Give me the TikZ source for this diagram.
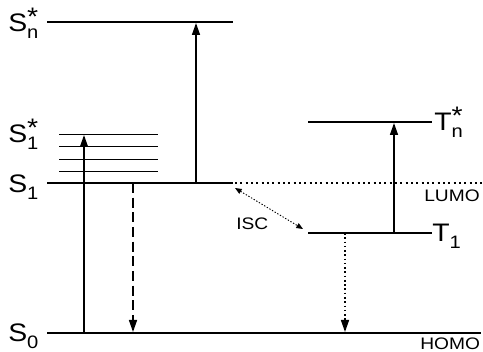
\documentclass[tikz,border=0pt]{standalone}
\usepackage{fontspec}
\setmainfont{Liberation Sans}
\usetikzlibrary{arrows.meta}
\newcommand\lvllabel[3]{#1\makebox[0pt][l]{\raisebox{5.2pt}{#2}}\raisebox{-4.8pt}{\fontsize{13.5}{14}\selectfont #3}}
\begin{document}
\begin{tikzpicture}[x=0.75pt,y=-0.75pt,
  lvl/.style={line width=1.6pt},
  sub/.style={line width=0.65pt},
  trans/.style={line width=1.1pt,-{Triangle[length=9pt,width=6pt]}},
  big/.style={inner sep=0pt,anchor=base west,xscale=1.12,transform shape,font=\fontsize{19}{20}\selectfont},
  small/.style={inner sep=0pt,anchor=base west,xscale=1.15,transform shape,font=\fontsize{12.5}{13}\selectfont}]
\useasboundingbox (0,0) rectangle (483,352);
% levels
\draw[lvl] (47,22) -- (233,22);
\draw[sub] (59,134) -- (158,134);
\draw[sub] (59,146) -- (158,146);
\draw[sub] (59,159) -- (158,159);
\draw[sub] (59,171) -- (158,171);
\draw[lvl] (47,183) -- (233,183);
\draw[line width=1.8pt,dash pattern=on 1.6pt off 2.4pt] (235,183) -- (483,183);
\draw[lvl] (47,333) -- (481,333);
\draw[lvl] (308,122) -- (432,122);
\draw[lvl] (308,233) -- (432,233);
% labels
\node[big] (lSn) at (8,32) {\lvllabel{S}{*}{n}};
\node[big] (lS1s) at (8,143) {\lvllabel{S}{*}{1}};
\node[big] (lS1) at (8,193) {\lvllabel{S}{}{1}};
\node[big] (lS0) at (8,342) {\lvllabel{S}{}{0}};
\node[big] (lTn) at (434,131) {\lvllabel{T}{*}{n}};
\node[big] (lT1) at (432,242) {\lvllabel{T}{}{1}};
\node[small] (lumo) at (424,202) {LUMO};
\node[small] (homo) at (420,350) {HOMO};
\node[small] (isc) at (236,230) {ISC};
% arrow end points
\coordinate (a1s) at (84,333);  \coordinate (a1e) at (84,135);
\coordinate (a2s) at (196,183); \coordinate (a2e) at (196,23);
\coordinate (a3s) at (133,183); \coordinate (a3e) at (133,332);
\coordinate (a4s) at (394,233); \coordinate (a4e) at (394,123);
\coordinate (a5s) at (345,233); \coordinate (a5e) at (345,332);
\coordinate (iscA) at (235,188); \coordinate (iscB) at (303,229);
% arrows
\draw[trans] (a1s) -- (a1e);
\draw[trans] (a2s) -- (a2e);
\draw[trans,dash pattern=on 7.5pt off 3.5pt] (a3s) -- (a3e);
\draw[trans] (a4s) -- (a4e);
\draw[trans,dash pattern=on 1.2pt off 2pt] (a5s) -- (a5e);
\draw[line width=0.7pt,dash pattern=on 1pt off 1.3pt,{Triangle[length=5pt,width=4pt]}-{Triangle[length=5pt,width=4pt]}] (iscA) -- (iscB);
\end{tikzpicture}
\end{document}
